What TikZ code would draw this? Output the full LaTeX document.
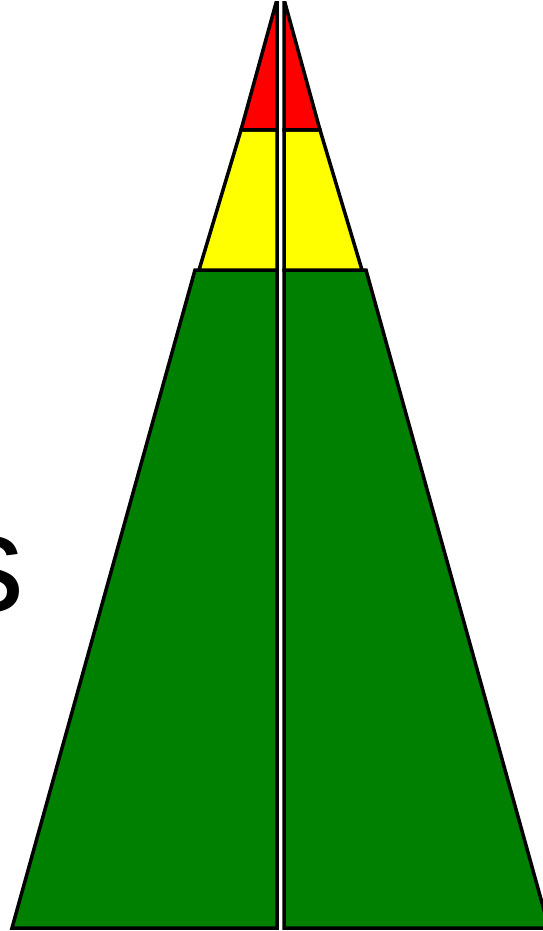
\documentclass[tikz,border=0pt]{standalone}
\usepackage{fontspec}
\setmainfont{Liberation Sans}
\usetikzlibrary{positioning}
\definecolor{topred}{RGB}{255,0,0}
\definecolor{midyellow}{RGB}{255,255,0}
\definecolor{lowgreen}{RGB}{0,128,0}
\tikzset{band/.style={draw=black, line width=3.5pt, line join=miter}}
\begin{document}
\begin{tikzpicture}[x=1pt, y=-1pt]
  \useasboundingbox (0,0) rectangle (543,931);
  \clip (0,0) rectangle (543,931);
  % 左边露出的文字
  \node[anchor=base east, inner sep=0pt, font=\fontsize{140}{140}\selectfont] (lbl) at (25,611) {s};
  % 左半
  \begin{scope}
    \filldraw[band, fill=lowgreen] (195,270) -- (277,270) -- (277,928) -- (12,928) -- cycle;
    \filldraw[band, fill=midyellow] (241,130) -- (277,130) -- (277,270) -- (199,270) -- cycle;
    \filldraw[band, fill=topred] (276,3) -- (277,3) -- (277,130) -- (241,130) -- cycle;
  \end{scope}
  % 右半
  \begin{scope}
    \filldraw[band, fill=lowgreen] (366,270) -- (284,270) -- (284,928) -- (549,928) -- cycle;
    \filldraw[band, fill=midyellow] (320,130) -- (284,130) -- (284,270) -- (362,270) -- cycle;
    \filldraw[band, fill=topred] (285,3) -- (284,3) -- (284,130) -- (320,130) -- cycle;
  \end{scope}
\end{tikzpicture}
\end{document}
